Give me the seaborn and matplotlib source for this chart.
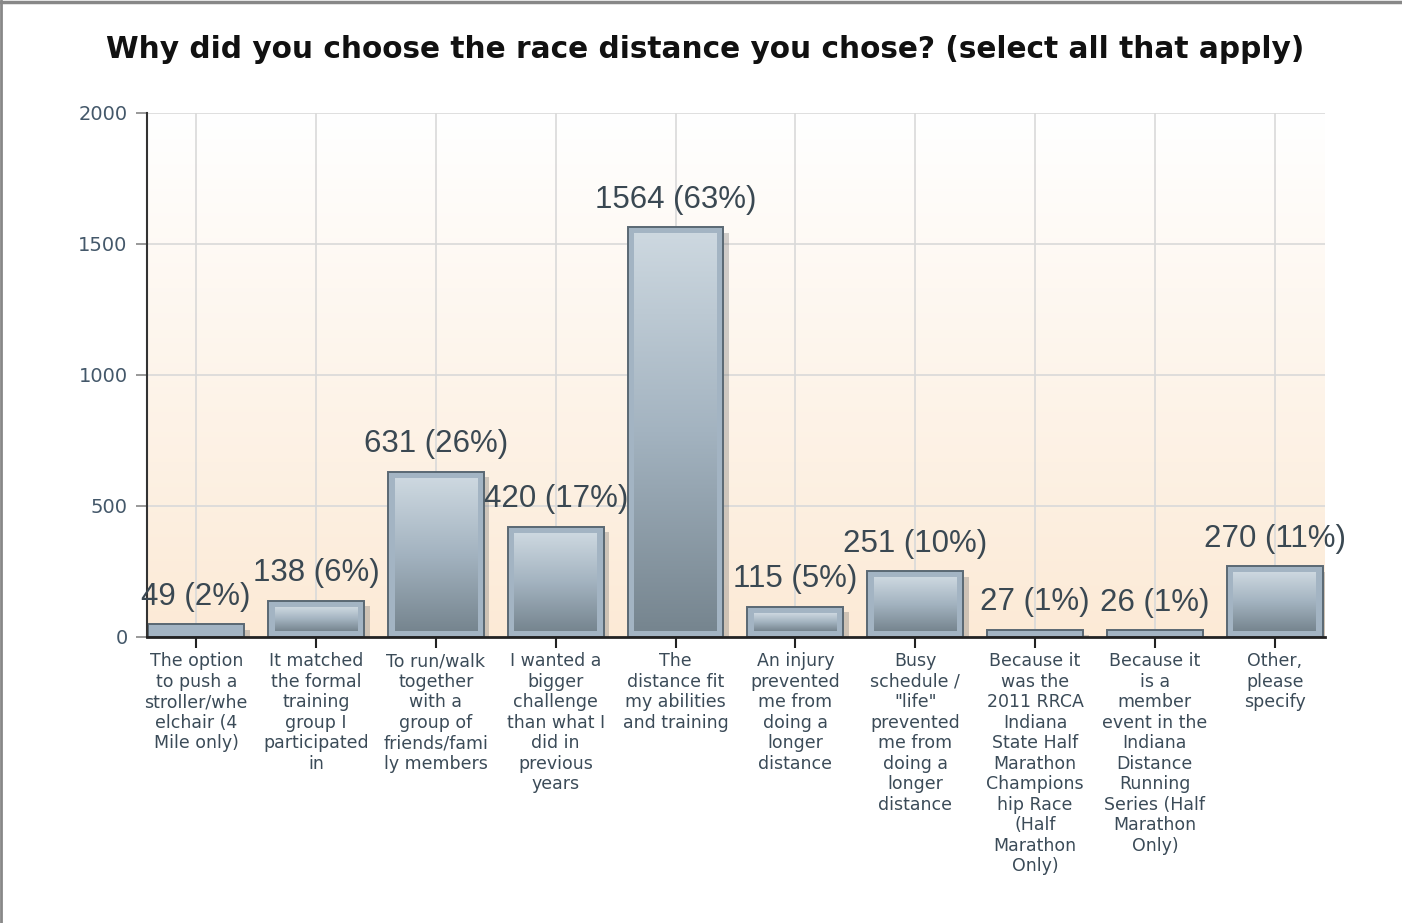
import numpy as np
import pandas as pd
import matplotlib
matplotlib.use("Agg")
import matplotlib.pyplot as plt
import matplotlib.patheffects as pe
from matplotlib.lines import Line2D
from matplotlib.colors import LinearSegmentedColormap
import seaborn as sns

# Survey answers (wrapped as in the original chart)
labels = [
    "The option\nto push a\nstroller/whe\nelchair (4\nMile only)",
    "It matched\nthe formal\ntraining\ngroup I\nparticipated\nin",
    "To run/walk\ntogether\nwith a\ngroup of\nfriends/fami\nly members",
    "I wanted a\nbigger\nchallenge\nthan what I\ndid in\nprevious\nyears",
    "The\ndistance fit\nmy abilities\nand training",
    "An injury\nprevented\nme from\ndoing a\nlonger\ndistance",
    "Busy\nschedule /\n\"life\"\nprevented\nme from\ndoing a\nlonger\ndistance",
    "Because it\nwas the\n2011 RRCA\nIndiana\nState Half\nMarathon\nChampions\nhip Race\n(Half\nMarathon\nOnly)",
    "Because it\nis a\nmember\nevent in the\nIndiana\nDistance\nRunning\nSeries (Half\nMarathon\nOnly)",
    "Other,\nplease\nspecify",
]
counts = [49, 138, 631, 420, 1564, 115, 251, 27, 26, 270]
pcts = [2, 6, 26, 17, 63, 5, 10, 1, 1, 11]
yticks = [0, 500, 1000, 1500, 2000]

df = pd.DataFrame({"answer": labels, "count": counts, "pct": pcts})

sns.set_style("white")
fig = plt.figure(figsize=(14.02, 9.23), dpi=100)
ax = fig.add_axes([0.1049, 0.3099, 0.8402, 0.5677])

# background gradient (white at top, peach at bottom)
bg = LinearSegmentedColormap.from_list("bg", ["#fcead6", "#ffffff"])
ax.imshow(np.linspace(0, 1, 256).reshape(-1, 1), cmap=bg, aspect="auto",
          origin="lower", extent=[0, 1, 0, 1], transform=ax.transAxes, zorder=0)

sns.barplot(data=df, x="answer", y="count", order=labels, color="#a3b4c3",
            saturation=1, width=0.8, edgecolor="#5a6873", linewidth=1.4,
            ax=ax, zorder=3)

ax.set_xlim(-0.41, 9.42)
ax.set_ylim(0, 2000)

# inner gradient + shadow for each bar
barg = LinearSegmentedColormap.from_list("barg", ["#76858f", "#a3b3c0", "#cdd8e0"])
for p in ax.patches:
    p.set_path_effects([pe.SimplePatchShadow(offset=(4, -4), shadow_rgbFace="#666666", alpha=0.3),
                        pe.Normal()])
    x0, w, h = p.get_x(), p.get_width(), p.get_height()
    padx, pady = 0.055, 24
    if h > 3 * pady:
        ax.imshow(np.linspace(0, 1, 256).reshape(-1, 1), cmap=barg, aspect="auto",
                  origin="lower", extent=[x0 + padx, x0 + w - padx, pady, h - pady],
                  zorder=4)

# value labels
for i, (c, pc) in enumerate(zip(counts, pcts)):
    ax.annotate(f"{c} ({pc}%)", (i, c), xytext=(0, 14), textcoords="offset points",
                ha="center", va="baseline", fontsize=22.5, color="#3a4852",
                family="Liberation Sans", zorder=6)

ax.set_yticks(yticks)
ax.grid(True, color="#d9d9d9", linewidth=1.2)
ax.set_axisbelow(True)
for sp in ["top", "right"]:
    ax.spines[sp].set_visible(False)
ax.spines["left"].set_color("#333333")
ax.spines["left"].set_linewidth(1.5)
ax.spines["bottom"].set_color("#222222")
ax.spines["bottom"].set_linewidth(2)
ax.spines["left"].set_zorder(5)
ax.spines["bottom"].set_zorder(5)

ax.tick_params(axis="y", which="both", left=True, length=8, width=1.2, color="#888888",
               labelsize=14, labelcolor="#44586a", pad=6)
ax.tick_params(axis="x", bottom=True, length=8, width=1.5, color="#222222",
               labelsize=12.5, labelcolor="#3b4b58", pad=3)
for t in ax.get_xticklabels():
    t.set_linespacing(1.18)
    t.set_verticalalignment("top")
ax.set_xlabel("")
ax.set_ylabel("")

fig.suptitle("Why did you choose the race distance you chose? (select all that apply)",
             x=0.503, y=0.962, fontsize=21.3, fontweight="bold", color="#111111")

# frame of the original screenshot
fig.add_artist(Line2D([0, 1], [0.998, 0.998], transform=fig.transFigure, color="#888888", lw=2.5))
fig.add_artist(Line2D([0.001, 0.001], [0, 1], transform=fig.transFigure, color="#888888", lw=2))

fig.savefig("out.png", dpi=100)
